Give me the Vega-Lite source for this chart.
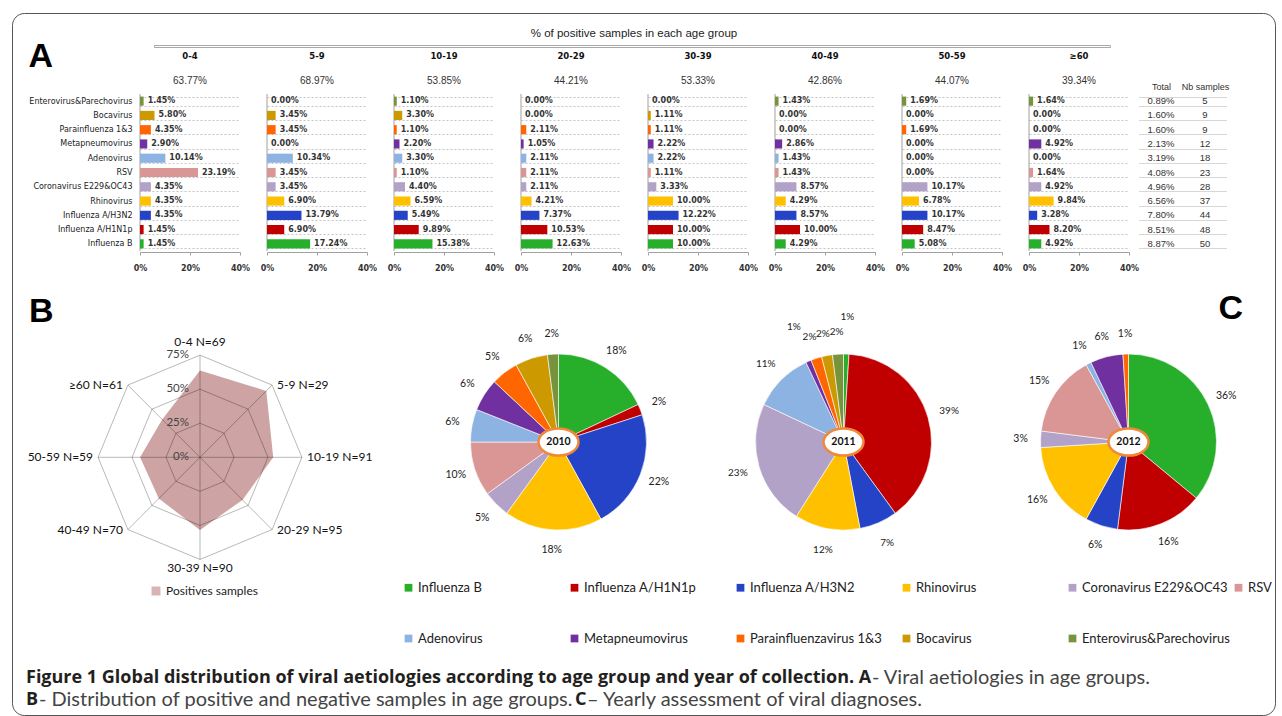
{
  "$schema": "https://vega.github.io/schema/vega-lite/v6.json",
  "background": "white",
  "padding": {"left": 11, "top": 12, "right": 4, "bottom": 0},
  "config": {"view": {"stroke": null}, "font": "Liberation Sans"},
  "datasets": {
    "virus": [
      {"v":"Enterovirus&Parechovirus","t":0.89,"n":5,"0-4":1.45,"5-9":0,"10-19":1.10,"20-29":0,"30-39":0,"40-49":1.43,"50-59":1.69,"≥60":1.64},
      {"v":"Bocavirus","t":1.60,"n":9,"0-4":5.80,"5-9":3.45,"10-19":3.30,"20-29":0,"30-39":1.11,"40-49":0,"50-59":0,"≥60":0},
      {"v":"Parainfluenza 1&3","t":1.60,"n":9,"0-4":4.35,"5-9":3.45,"10-19":1.10,"20-29":2.11,"30-39":1.11,"40-49":0,"50-59":1.69,"≥60":0},
      {"v":"Metapneumovirus","t":2.13,"n":12,"0-4":2.90,"5-9":0,"10-19":2.20,"20-29":1.05,"30-39":2.22,"40-49":2.86,"50-59":0,"≥60":4.92},
      {"v":"Adenovirus","t":3.19,"n":18,"0-4":10.14,"5-9":10.34,"10-19":3.30,"20-29":2.11,"30-39":2.22,"40-49":1.43,"50-59":0,"≥60":0},
      {"v":"RSV","t":4.08,"n":23,"0-4":23.19,"5-9":3.45,"10-19":1.10,"20-29":2.11,"30-39":1.11,"40-49":1.43,"50-59":0,"≥60":1.64},
      {"v":"Coronavirus E229&OC43","t":4.96,"n":28,"0-4":4.35,"5-9":3.45,"10-19":4.40,"20-29":2.11,"30-39":3.33,"40-49":8.57,"50-59":10.17,"≥60":4.92},
      {"v":"Rhinovirus","t":6.56,"n":37,"0-4":4.35,"5-9":6.90,"10-19":6.59,"20-29":4.21,"30-39":10.00,"40-49":4.29,"50-59":6.78,"≥60":9.84},
      {"v":"Influenza A/H3N2","t":7.80,"n":44,"0-4":4.35,"5-9":13.79,"10-19":5.49,"20-29":7.37,"30-39":12.22,"40-49":8.57,"50-59":10.17,"≥60":3.28},
      {"v":"Influenza A/H1N1p","t":8.51,"n":48,"0-4":1.45,"5-9":6.90,"10-19":9.89,"20-29":10.53,"30-39":10.00,"40-49":10.00,"50-59":8.47,"≥60":8.20},
      {"v":"Influenza B","t":8.87,"n":50,"0-4":1.45,"5-9":17.24,"10-19":15.38,"20-29":12.63,"30-39":10.00,"40-49":4.29,"50-59":5.08,"≥60":4.92}
    ],
    "ages": [
      {"a":"0-4","k":0,"pos":63.77,"n":69},
      {"a":"5-9","k":1,"pos":68.97,"n":29},
      {"a":"10-19","k":2,"pos":53.85,"n":91},
      {"a":"20-29","k":3,"pos":44.21,"n":95},
      {"a":"30-39","k":4,"pos":53.33,"n":90},
      {"a":"40-49","k":5,"pos":42.86,"n":70},
      {"a":"50-59","k":6,"pos":44.07,"n":59},
      {"a":"≥60","k":7,"pos":39.34,"n":61}
    ],
    "grid": [
      {"l":25,"k":0},{"l":25,"k":1},{"l":25,"k":2},{"l":25,"k":3},{"l":25,"k":4},{"l":25,"k":5},{"l":25,"k":6},{"l":25,"k":7},
      {"l":50,"k":0},{"l":50,"k":1},{"l":50,"k":2},{"l":50,"k":3},{"l":50,"k":4},{"l":50,"k":5},{"l":50,"k":6},{"l":50,"k":7},
      {"l":75,"k":0},{"l":75,"k":1},{"l":75,"k":2},{"l":75,"k":3},{"l":75,"k":4},{"l":75,"k":5},{"l":75,"k":6},{"l":75,"k":7}
    ],
    "rings": [{"l":0},{"l":25},{"l":50},{"l":75}],
    "years": [{"yr":"2010"},{"yr":"2011"},{"yr":"2012"}],
    "pies": [
      {"y":2010,"v":"Influenza B","p":18},{"y":2010,"v":"Influenza A/H1N1p","p":2},{"y":2010,"v":"Influenza A/H3N2","p":22},{"y":2010,"v":"Rhinovirus","p":18},{"y":2010,"v":"Coronavirus E229&OC43","p":5},{"y":2010,"v":"RSV","p":10},{"y":2010,"v":"Adenovirus","p":6},{"y":2010,"v":"Metapneumovirus","p":6},{"y":2010,"v":"Parainfluenza 1&3","p":5},{"y":2010,"v":"Bocavirus","p":6},{"y":2010,"v":"Enterovirus&Parechovirus","p":2},
      {"y":2011,"v":"Influenza B","p":1},{"y":2011,"v":"Influenza A/H1N1p","p":39},{"y":2011,"v":"Influenza A/H3N2","p":7},{"y":2011,"v":"Rhinovirus","p":12},{"y":2011,"v":"Coronavirus E229&OC43","p":23},{"y":2011,"v":"Adenovirus","p":11},{"y":2011,"v":"Metapneumovirus","p":1},{"y":2011,"v":"Parainfluenza 1&3","p":2},{"y":2011,"v":"Bocavirus","p":2},{"y":2011,"v":"Enterovirus&Parechovirus","p":2},
      {"y":2012,"v":"Influenza B","p":36},{"y":2012,"v":"Influenza A/H1N1p","p":16},{"y":2012,"v":"Influenza A/H3N2","p":6},{"y":2012,"v":"Rhinovirus","p":16},{"y":2012,"v":"Coronavirus E229&OC43","p":3},{"y":2012,"v":"RSV","p":15},{"y":2012,"v":"Adenovirus","p":1},{"y":2012,"v":"Metapneumovirus","p":6},{"y":2012,"v":"Parainfluenza 1&3","p":1}
    ]
  },
  "spacing": 20,
  "vconcat": [
    {
      "spacing": 0,
      "hconcat": [
        {
          "data": {"name": "virus"},
          "transform": [
            {"fold": ["0-4","5-9","10-19","20-29","30-39","40-49","50-59","≥60"], "as": ["a","p"]},
            {"lookup": "a", "from": {"data": {"name": "ages"}, "key": "a", "fields": ["pos"]}},
            {"calculate": "format(datum.p, '.2f') + '%'", "as": "lab"},
            {"calculate": "format(datum.pos, '.2f') + '%'", "as": "plab"}
          ],
          "facet": {"column": {"field": "a", "type": "nominal", "sort": ["0-4","5-9","10-19","20-29","30-39","40-49","50-59","≥60"],
            "header": {"title": "% of positive samples in each age group", "titleFont": "Liberation Sans", "titleFontSize": 11.5, "titleFontWeight": "normal", "titleColor": "#222", "titlePadding": 2,
              "labelFont": "DejaVu Sans", "labelFontSize": 8.5, "labelFontWeight": "bold", "labelColor": "#111", "labelPadding": 16}}},
          "spacing": 26,
          "spec": {
            "width": 100,
            "height": 157,
            "layer": [
              {
                "transform": [{"filter": "datum.v == 'Influenza B'"}],
                "mark": {"type": "rule", "color": "#a0a0a0", "strokeWidth": 1},
                "encoding": {"x": {"datum": 0, "type": "quantitative"}}
              },
              {
                "mark": {"type": "bar"},
                "encoding": {
                  "y": {"field": "v", "type": "nominal", "sort": ["Enterovirus&Parechovirus","Bocavirus","Parainfluenza 1&3","Metapneumovirus","Adenovirus","RSV","Coronavirus E229&OC43","Rhinovirus","Influenza A/H3N2","Influenza A/H1N1p","Influenza B"],
                    "scale": {"paddingInner": 0.36, "paddingOuter": 0.18},
                    "axis": {"title": "A", "titleAngle": 0, "titleX": -111, "titleY": -55, "titleAlign": "left", "titleBaseline": "top", "titleFont": "Liberation Sans", "titleFontSize": 34, "titleFontWeight": "bold", "titleColor": "#000",
                      "domain": false, "ticks": false, "labelFont": "DejaVu Sans", "labelFontSize": 8, "labelColor": "#222", "labelPadding": 7,
                      "grid": true, "tickBand": "extent", "gridDash": [2, 2], "gridColor": "#b5b5b5", "gridWidth": 0.8}},
                  "x": {"field": "p", "type": "quantitative", "scale": {"domain": [0, 40]},
                    "axis": {"values": [0, 20, 40], "labelExpr": "datum.value + '%'", "title": null, "grid": false, "labelFlush": false, "domainColor": "#a0a0a0", "tickColor": "#a0a0a0", "tickSize": 3,
                      "labelFont": "DejaVu Sans", "labelFontSize": 8, "labelFontWeight": "bold", "labelColor": "#333", "labelPadding": 9}},
                  "color": {"field": "v", "type": "nominal",
                    "scale": {"domain": ["Influenza B","Influenza A/H1N1p","Influenza A/H3N2","Rhinovirus","Coronavirus E229&OC43","RSV","Adenovirus","Metapneumovirus","Parainfluenza 1&3","Bocavirus","Enterovirus&Parechovirus"],
                      "range": ["#27ae2b","#c00000","#2443c6","#ffc000","#b3a2c7","#d99694","#8db3e2","#7030a0","#ff6600","#cc9900","#77933c"]},
                    "legend": {"orient": "none", "legendX": 262, "legendY": 487, "direction": "horizontal", "title": null, "columns": 6, "gridAlign": "all", "columnPadding": 2, "rowPadding": 37,
                      "symbolType": "square", "symbolSize": 60, "symbolStrokeWidth": 0, "labelFont": "Lato", "labelFontSize": 13, "labelColor": "#222", "labelOffset": 3, "labelLimit": 300,
                      "labelExpr": "datum.label == 'Parainfluenza 1&3' ? 'Parainfluenzavirus 1&3' : datum.label"}}
                }
              },
              {
                "mark": {"type": "text", "align": "left", "dx": 4, "font": "DejaVu Sans", "fontSize": 8, "fontWeight": "bold", "color": "#333"},
                "encoding": {
                  "y": {"field": "v", "type": "nominal", "sort": ["Enterovirus&Parechovirus","Bocavirus","Parainfluenza 1&3","Metapneumovirus","Adenovirus","RSV","Coronavirus E229&OC43","Rhinovirus","Influenza A/H3N2","Influenza A/H1N1p","Influenza B"]},
                  "x": {"field": "p", "type": "quantitative"},
                  "text": {"field": "lab", "type": "nominal"}
                }
              },
              {
                "transform": [{"filter": "datum.v == 'Enterovirus&Parechovirus'"}],
                "mark": {"type": "text", "dy": -20, "font": "Liberation Sans", "fontSize": 10, "color": "#333"},
                "encoding": {
                  "y": {"field": "v", "type": "nominal", "sort": ["Enterovirus&Parechovirus","Bocavirus","Parainfluenza 1&3","Metapneumovirus","Adenovirus","RSV","Coronavirus E229&OC43","Rhinovirus","Influenza A/H3N2","Influenza A/H1N1p","Influenza B"]},
                  "x": {"datum": 20, "type": "quantitative"},
                  "text": {"field": "plab", "type": "nominal"}
                }
              }
            ]
          }
        },
        {
          "data": {"name": "virus"},
          "width": 88,
          "height": 157,
          "transform": [{"calculate": "format(datum.t, '.2f') + '%'", "as": "tl"}],
          "layer": [
            {
              "mark": {"type": "text", "font": "Liberation Sans", "fontSize": 9.5, "color": "#333"},
              "encoding": {
                "y": {"field": "v", "type": "nominal", "sort": ["Enterovirus&Parechovirus","Bocavirus","Parainfluenza 1&3","Metapneumovirus","Adenovirus","RSV","Coronavirus E229&OC43","Rhinovirus","Influenza A/H3N2","Influenza A/H1N1p","Influenza B"],
                  "scale": {"paddingInner": 0.36, "paddingOuter": 0.18},
                  "axis": {"title": null, "labels": false, "domain": false, "ticks": false, "grid": true, "tickBand": "extent", "gridDash": [1, 1], "gridColor": "#999", "gridWidth": 0.8}},
                "x": {"datum": "Total", "type": "nominal", "scale": {"domain": ["Total", "Nb samples"]},
                  "axis": {"orient": "top", "title": null, "domain": false, "ticks": false, "labelFont": "Liberation Sans", "labelFontSize": 9, "labelColor": "#333", "labelPadding": 3, "labelAngle": 0}},
                "text": {"field": "tl", "type": "nominal"}
              }
            },
            {
              "mark": {"type": "text", "font": "Liberation Sans", "fontSize": 9.5, "color": "#333"},
              "encoding": {
                "y": {"field": "v", "type": "nominal", "sort": ["Enterovirus&Parechovirus","Bocavirus","Parainfluenza 1&3","Metapneumovirus","Adenovirus","RSV","Coronavirus E229&OC43","Rhinovirus","Influenza A/H3N2","Influenza A/H1N1p","Influenza B"]},
                "x": {"datum": "Nb samples", "type": "nominal"},
                "text": {"field": "n", "type": "quantitative"}
              }
            }
          ]
        }
      ]
    },
    {
      "spacing": 0,
      "hconcat": [
        {
          "width": 276,
          "height": 316,
          "title": {"text": "B", "anchor": "start", "frame": "group", "font": "Liberation Sans", "fontSize": 34, "fontWeight": "bold", "color": "#000", "offset": 3, "dx": -111},
          "layer": [
            {
              "data": {"name": "ages"},
              "transform": [
                {"calculate": "datum.pos * sin(datum.k * PI / 4)", "as": "px"},
                {"calculate": "datum.pos * cos(datum.k * PI / 4)", "as": "py"}
              ],
              "mark": {"type": "line", "interpolate": "linear-closed", "fill": "#c69696", "fillOpacity": 0.88, "strokeOpacity": 0},
              "encoding": {
                "x": {"field": "px", "type": "quantitative", "scale": {"domain": [-44.14, 158.9], "nice": false, "zero": false}, "axis": null},
                "y": {"field": "py", "type": "quantitative", "scale": {"domain": [-140, 92], "nice": false, "zero": false}, "axis": null},
                "order": {"field": "k", "type": "quantitative"}
              }
            },
            {
              "data": {"name": "rings"},
              "transform": [{"filter": "false"}],
              "mark": {"type": "square"},
              "encoding": {
                "x": {"field": "l", "type": "quantitative"},
                "y": {"field": "l", "type": "quantitative"},
                "fill": {"datum": "Positives samples", "type": "nominal", "scale": {"range": ["#c69696"]},
                  "legend": {"orient": "none", "legendX": 10, "legendY": 491, "title": null, "symbolType": "square", "symbolSize": 80, "symbolStrokeWidth": 0, "labelFont": "Lato", "labelFontSize": 12, "labelColor": "#222", "labelOffset": 4}}
              }
            },
            {
              "data": {"name": "grid"},
              "transform": [
                {"calculate": "datum.l * sin(datum.k * PI / 4)", "as": "gx"},
                {"calculate": "datum.l * cos(datum.k * PI / 4)", "as": "gy"}
              ],
              "mark": {"type": "line", "interpolate": "linear-closed", "stroke": "#000", "strokeOpacity": 0.28, "strokeWidth": 1},
              "encoding": {
                "x": {"field": "gx", "type": "quantitative"},
                "y": {"field": "gy", "type": "quantitative"},
                "detail": {"field": "l", "type": "nominal"},
                "order": {"field": "k", "type": "quantitative"}
              }
            },
            {
              "data": {"name": "ages"},
              "transform": [
                {"calculate": "75 * sin(datum.k * PI / 4)", "as": "ex"},
                {"calculate": "75 * cos(datum.k * PI / 4)", "as": "ey"}
              ],
              "mark": {"type": "rule", "stroke": "#000", "strokeOpacity": 0.28, "strokeWidth": 1},
              "encoding": {
                "x": {"field": "ex", "type": "quantitative"},
                "y": {"field": "ey", "type": "quantitative"},
                "x2": {"datum": 0},
                "y2": {"datum": 0}
              }
            },
            {
              "data": {"name": "rings"},
              "transform": [{"calculate": "datum.l + '%'", "as": "rl"}],
              "mark": {"type": "text", "align": "right", "baseline": "middle", "dx": -11, "font": "Lato", "fontSize": 11.5, "color": "#444"},
              "encoding": {
                "x": {"datum": 0, "type": "quantitative"},
                "y": {"field": "l", "type": "quantitative"},
                "text": {"field": "rl", "type": "nominal"}
              }
            },
            {
              "data": {"name": "ages"},
              "transform": [
                {"filter": "datum.k == 0"},
                {"calculate": "datum.a + ' N=' + datum.n", "as": "lab"}
              ],
              "mark": {"type": "text", "align": "center", "baseline": "bottom", "dy": -6, "font": "Lato", "fontSize": 12, "color": "#111"},
              "encoding": {"x": {"datum": 0, "type": "quantitative"}, "y": {"datum": 75, "type": "quantitative"}, "text": {"field": "lab", "type": "nominal"}}
            },
            {
              "data": {"name": "ages"},
              "transform": [
                {"filter": "datum.k == 4"},
                {"calculate": "datum.a + ' N=' + datum.n", "as": "lab"}
              ],
              "mark": {"type": "text", "align": "center", "baseline": "top", "dy": 4, "font": "Lato", "fontSize": 12, "color": "#111"},
              "encoding": {"x": {"datum": 0, "type": "quantitative"}, "y": {"datum": -75, "type": "quantitative"}, "text": {"field": "lab", "type": "nominal"}}
            },
            {
              "data": {"name": "ages"},
              "transform": [
                {"filter": "datum.k >= 1 && datum.k <= 3"},
                {"calculate": "datum.a + ' N=' + datum.n", "as": "lab"},
                {"calculate": "75 * sin(datum.k * PI / 4)", "as": "ex"},
                {"calculate": "75 * cos(datum.k * PI / 4)", "as": "ey"}
              ],
              "mark": {"type": "text", "align": "left", "baseline": "middle", "dx": 5, "font": "Lato", "fontSize": 12, "color": "#111"},
              "encoding": {"x": {"field": "ex", "type": "quantitative"}, "y": {"field": "ey", "type": "quantitative"}, "text": {"field": "lab", "type": "nominal"}}
            },
            {
              "data": {"name": "ages"},
              "transform": [
                {"filter": "datum.k >= 5"},
                {"calculate": "datum.a + ' N=' + datum.n", "as": "lab"},
                {"calculate": "75 * sin(datum.k * PI / 4)", "as": "ex"},
                {"calculate": "75 * cos(datum.k * PI / 4)", "as": "ey"}
              ],
              "mark": {"type": "text", "align": "right", "baseline": "middle", "dx": -5, "font": "Lato", "fontSize": 12, "color": "#111"},
              "encoding": {"x": {"field": "ex", "type": "quantitative"}, "y": {"field": "ey", "type": "quantitative"}, "text": {"field": "lab", "type": "nominal"}}
            }
          ]
        },
        {
          "width": 285,
          "height": 220,
          "layer": [
            {
              "data": {"name": "pies"},
              "transform": [
                {"filter": "datum.y == 2010"},
                {"calculate": "indexof(['Influenza B','Influenza A/H1N1p','Influenza A/H3N2','Rhinovirus','Coronavirus E229&OC43','RSV','Adenovirus','Metapneumovirus','Parainfluenza 1&3','Bocavirus','Enterovirus&Parechovirus'], datum.v)", "as": "o"},
                {"calculate": "datum.p + '%'", "as": "lab"}
              ],
              "layer": [
                {
                  "mark": {"type": "arc", "outerRadius": 88, "stroke": "#fff", "strokeWidth": 0.6},
                  "encoding": {
                    "theta": {"field": "p", "type": "quantitative", "stack": true},
                    "order": {"field": "o", "type": "quantitative"},
                    "color": {"field": "v", "type": "nominal",
                      "scale": {"domain": ["Influenza B","Influenza A/H1N1p","Influenza A/H3N2","Rhinovirus","Coronavirus E229&OC43","RSV","Adenovirus","Metapneumovirus","Parainfluenza 1&3","Bocavirus","Enterovirus&Parechovirus"],
                        "range": ["#27ae2b","#c00000","#2443c6","#ffc000","#b3a2c7","#d99694","#8db3e2","#7030a0","#ff6600","#cc9900","#77933c"]}}
                  }
                },
                {
                  "mark": {"type": "text", "radius": 108, "font": "Lato", "fontSize": 10.5, "color": "#222"},
                  "encoding": {
                    "theta": {"field": "p", "type": "quantitative", "stack": true},
                    "order": {"field": "o", "type": "quantitative"},
                    "text": {"field": "lab", "type": "nominal"}
                  }
                }
              ]
            },
            {
              "data": {"name": "years"},
              "transform": [{"filter": "datum.yr == '2010'"}],
              "mark": {"type": "point", "shape": "M -1 0 A 1 0.68 0 1 1 1 0 A 1 0.68 0 1 1 -1 0 Z", "size": 1600, "filled": true, "fill": "#fff", "stroke": "#f0883a", "strokeWidth": 2.5, "opacity": 1},
              "encoding": {}
            },
            {
              "data": {"name": "years"},
              "transform": [{"filter": "datum.yr == '2010'"}],
              "mark": {"type": "text", "font": "Lato", "fontSize": 10.5, "fontWeight": "bold", "color": "#111"},
              "encoding": {"text": {"field": "yr", "type": "nominal"}}
            }
          ]
        },
        {
          "width": 285,
          "height": 220,
          "layer": [
            {
              "data": {"name": "pies"},
              "transform": [
                {"filter": "datum.y == 2011"},
                {"calculate": "indexof(['Influenza B','Influenza A/H1N1p','Influenza A/H3N2','Rhinovirus','Coronavirus E229&OC43','RSV','Adenovirus','Metapneumovirus','Parainfluenza 1&3','Bocavirus','Enterovirus&Parechovirus'], datum.v)", "as": "o"},
                {"calculate": "datum.p + '%'", "as": "lab"}
              ],
              "layer": [
                {
                  "mark": {"type": "arc", "outerRadius": 88, "stroke": "#fff", "strokeWidth": 0.6},
                  "encoding": {
                    "theta": {"field": "p", "type": "quantitative", "stack": true},
                    "order": {"field": "o", "type": "quantitative"},
                    "color": {"field": "v", "type": "nominal",
                      "scale": {"domain": ["Influenza B","Influenza A/H1N1p","Influenza A/H3N2","Rhinovirus","Coronavirus E229&OC43","RSV","Adenovirus","Metapneumovirus","Parainfluenza 1&3","Bocavirus","Enterovirus&Parechovirus"],
                        "range": ["#27ae2b","#c00000","#2443c6","#ffc000","#b3a2c7","#d99694","#8db3e2","#7030a0","#ff6600","#cc9900","#77933c"]}}
                  }
                },
                {
                  "mark": {"type": "text", "radius": 110, "font": "Lato", "fontSize": 10, "color": "#222"},
                  "encoding": {
                    "theta": {"field": "p", "type": "quantitative", "stack": true},
                    "order": {"field": "o", "type": "quantitative"},
                    "text": {"condition": {"test": "datum.p >= 1.5", "field": "lab", "type": "nominal"}, "value": ""}
                  }
                },
                {
                  "mark": {"type": "text", "radius": 125, "font": "Lato", "fontSize": 10, "color": "#222"},
                  "encoding": {
                    "theta": {"field": "p", "type": "quantitative", "stack": true},
                    "order": {"field": "o", "type": "quantitative"},
                    "text": {"condition": {"test": "datum.p < 1.5", "field": "lab", "type": "nominal"}, "value": ""}
                  }
                }
              ]
            },
            {
              "data": {"name": "years"},
              "transform": [{"filter": "datum.yr == '2011'"}],
              "mark": {"type": "point", "shape": "M -1 0 A 1 0.68 0 1 1 1 0 A 1 0.68 0 1 1 -1 0 Z", "size": 1600, "filled": true, "fill": "#fff", "stroke": "#f0883a", "strokeWidth": 2.5, "opacity": 1},
              "encoding": {}
            },
            {
              "data": {"name": "years"},
              "transform": [{"filter": "datum.yr == '2011'"}],
              "mark": {"type": "text", "font": "Lato", "fontSize": 10.5, "fontWeight": "bold", "color": "#111"},
              "encoding": {"text": {"field": "yr", "type": "nominal"}}
            }
          ]
        },
        {
          "width": 285,
          "height": 220,
          "title": {"text": "C", "anchor": "end", "frame": "group", "font": "Liberation Sans", "fontSize": 34, "fontWeight": "bold", "color": "#000", "offset": 3, "dx": -28},
          "layer": [
            {
              "data": {"name": "pies"},
              "transform": [
                {"filter": "datum.y == 2012"},
                {"calculate": "indexof(['Influenza B','Influenza A/H1N1p','Influenza A/H3N2','Rhinovirus','Coronavirus E229&OC43','RSV','Adenovirus','Metapneumovirus','Parainfluenza 1&3','Bocavirus','Enterovirus&Parechovirus'], datum.v)", "as": "o"},
                {"calculate": "datum.p + '%'", "as": "lab"}
              ],
              "layer": [
                {
                  "mark": {"type": "arc", "outerRadius": 88, "stroke": "#fff", "strokeWidth": 0.6},
                  "encoding": {
                    "theta": {"field": "p", "type": "quantitative", "stack": true},
                    "order": {"field": "o", "type": "quantitative"},
                    "color": {"field": "v", "type": "nominal",
                      "scale": {"domain": ["Influenza B","Influenza A/H1N1p","Influenza A/H3N2","Rhinovirus","Coronavirus E229&OC43","RSV","Adenovirus","Metapneumovirus","Parainfluenza 1&3","Bocavirus","Enterovirus&Parechovirus"],
                        "range": ["#27ae2b","#c00000","#2443c6","#ffc000","#b3a2c7","#d99694","#8db3e2","#7030a0","#ff6600","#cc9900","#77933c"]}}
                  }
                },
                {
                  "mark": {"type": "text", "radius": 108, "font": "Lato", "fontSize": 10.5, "color": "#222"},
                  "encoding": {
                    "theta": {"field": "p", "type": "quantitative", "stack": true},
                    "order": {"field": "o", "type": "quantitative"},
                    "text": {"field": "lab", "type": "nominal"}
                  }
                }
              ]
            },
            {
              "data": {"name": "years"},
              "transform": [{"filter": "datum.yr == '2012'"}],
              "mark": {"type": "point", "shape": "M -1 0 A 1 0.68 0 1 1 1 0 A 1 0.68 0 1 1 -1 0 Z", "size": 1600, "filled": true, "fill": "#fff", "stroke": "#f0883a", "strokeWidth": 2.5, "opacity": 1},
              "encoding": {}
            },
            {
              "data": {"name": "years"},
              "transform": [{"filter": "datum.yr == '2012'"}],
              "mark": {"type": "text", "font": "Lato", "fontSize": 10.5, "fontWeight": "bold", "color": "#111"},
              "encoding": {"text": {"field": "yr", "type": "nominal"}}
            }
          ]
        }
      ]
    },
    {
      "width": 1100,
      "height": 36,
      "data": {"values": [{"s": "caption"}]},
      "layer": [
        {
          "transform": [{"filter": "false"}],
          "mark": {"type": "point"},
          "encoding": {
            "shape": {"datum": "frame", "type": "nominal",
              "legend": {"orient": "none", "legendX": -128, "legendY": -81, "title": null, "padding": 350.5, "strokeColor": "#555", "cornerRadius": 12,
                "symbolSize": 1, "symbolOpacity": 0, "symbolStrokeWidth": 0, "labelOffset": 462, "labelFontSize": 1, "labelOpacity": 0, "labelLimit": 99,
                "labelExpr": "pad('', 400, 'M')"}}
          }
        },
        {
          "transform": [{"filter": "false"}],
          "mark": {"type": "point"},
          "encoding": {
            "stroke": {"datum": "rule", "type": "nominal", "scale": {"range": ["#999"]},
              "legend": {"orient": "none", "legendX": 14, "legendY": -49, "title": null, "padding": 0, "strokeColor": "#a8a8a8",
                "symbolSize": 0.01, "symbolOpacity": 0, "symbolStrokeWidth": 0, "labelOffset": 0, "labelFontSize": 0.6, "labelOpacity": 0, "labelLimit": 955,
                "labelExpr": "pad('', 4000, 'M')"}}
          }
        },
        {
          "mark": {"type": "text", "align": "left", "baseline": "middle", "font": "Open Sans", "fontSize": 18, "fontWeight": "bold", "color": "#231f20", "text": "Figure 1 Global distribution of viral aetiologies according to age group and year of collection. A"},
          "encoding": {"x": {"value": -114}, "y": {"value": 1}}
        },
        {
          "mark": {"type": "text", "align": "left", "baseline": "middle", "font": "Lato", "fontSize": 20, "fontWeight": "normal", "color": "#444", "text": "- Viral aetiologies in age groups."},
          "encoding": {"x": {"value": 732}, "y": {"value": 1}}
        },
        {
          "mark": {"type": "text", "align": "left", "baseline": "middle", "font": "Open Sans", "fontSize": 18, "fontWeight": "bold", "color": "#231f20", "text": "B"},
          "encoding": {"x": {"value": -114}, "y": {"value": 23}}
        },
        {
          "mark": {"type": "text", "align": "left", "baseline": "middle", "font": "Lato", "fontSize": 20, "fontWeight": "normal", "color": "#444", "text": "- Distribution of positive and negative samples in age groups."},
          "encoding": {"x": {"value": -101}, "y": {"value": 23}}
        },
        {
          "mark": {"type": "text", "align": "left", "baseline": "middle", "font": "Open Sans", "fontSize": 18, "fontWeight": "bold", "color": "#231f20", "text": "C"},
          "encoding": {"x": {"value": 435}, "y": {"value": 23}}
        },
        {
          "mark": {"type": "text", "align": "left", "baseline": "middle", "font": "Lato", "fontSize": 20, "fontWeight": "normal", "color": "#444", "text": "– Yearly assessment of viral diagnoses."},
          "encoding": {"x": {"value": 447}, "y": {"value": 23}}
        }
      ]
    }
  ]
}
